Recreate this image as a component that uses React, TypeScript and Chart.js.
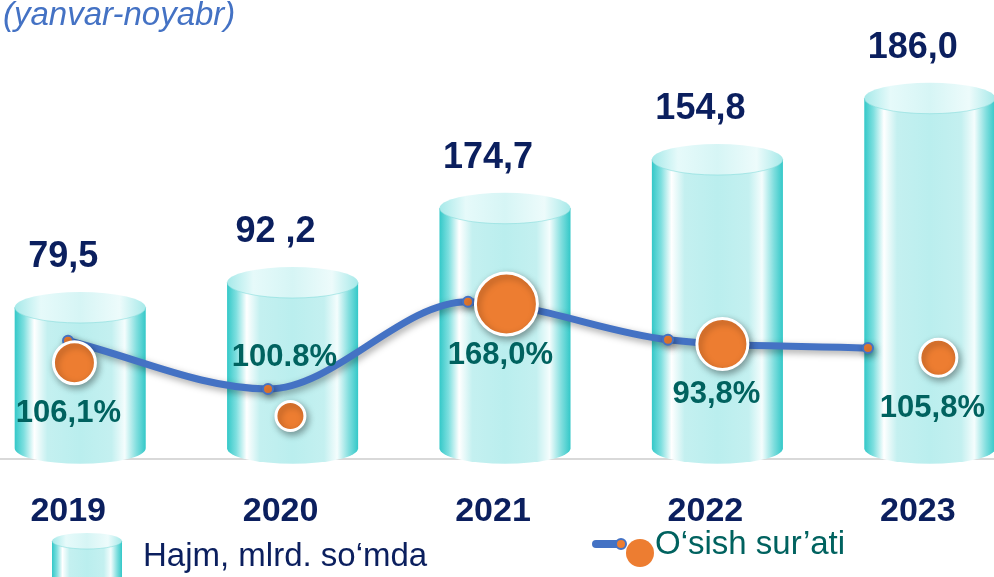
import React, { useEffect, useRef } from 'react';
import { Chart, registerables } from 'chart.js';

Chart.register(...registerables);

// ---------- data ----------
const years = ['2019', '2020', '2021', '2022', '2023'];
const volumeLabels = ['79,5', '92 ,2', '174,7', '154,8', '186,0'];
// cylinder heights as drawn in the picture (mlrd. so'm)
const volumeDrawn = [79.5, 92.2, 130, 154.8, 186.0];
const rateLabels = ['106,1%', '100.8%', '168,0%', '93,8%', '105,8%'];
// level of the growth line and of the bubbles on the hidden rate axis
const lineLevel = [25.8, 15.3, 34.3, 26.0, 24.2];
const bubbleLevel = [21.0, 9.4, 33.8, 25.1, 22.1];
const bubbleSize = [21, 14.5, 31, 25.5, 18.5];
const rateLabelSide = ['below', 'above', 'below', 'below', 'below'];
const titleText = '(yanvar-noyabr)';
const legendVolume = 'Hajm, mlrd. so‘mda';
const legendRate = 'O‘sish sur’ati';

const FONT = "'Liberation Sans', Arial, Helvetica, sans-serif";
const NAVY = '#0B1F5E';
const TEAL_TEXT = '#00625F';
const BLUE = '#4472C4';
const ORANGE = '#ED7D31';
const CANVAS_W = 1062;
const CANVAS_H = 577;
const SHIFT = 26; // canvas sits 26px left of the page edge
const RY = 15.5;

function bodyGradient(ctx: CanvasRenderingContext2D, l: number, r: number) {
  const g = ctx.createLinearGradient(l, 0, r, 0);
  g.addColorStop(0, '#33C8C8');
  g.addColorStop(0.07, '#7EDFDF');
  g.addColorStop(0.15, '#FFFFFF');
  g.addColorStop(0.25, '#C4F0F0');
  g.addColorStop(0.5, '#BAEEEE');
  g.addColorStop(0.74, '#C4F0F0');
  g.addColorStop(0.84, '#F4FDFD');
  g.addColorStop(0.93, '#80DEDE');
  g.addColorStop(1, '#33C8C8');
  return g;
}

function capGradient(ctx: CanvasRenderingContext2D, l: number, r: number) {
  const g = ctx.createLinearGradient(l, 0, r, 0);
  g.addColorStop(0, '#A6E9E9');
  g.addColorStop(0.2, '#E6FAFA');
  g.addColorStop(0.5, '#D6F5F5');
  g.addColorStop(0.8, '#EDFBFB');
  g.addColorStop(1, '#A6E9E9');
  return g;
}

function drawCylinder(ctx: CanvasRenderingContext2D, l: number, r: number, top: number, base: number, ry: number) {
  const cx = (l + r) / 2;
  const rx = (r - l) / 2;
  const capY = top + ry;
  ctx.save();
  ctx.fillStyle = bodyGradient(ctx, l, r);
  ctx.beginPath();
  ctx.moveTo(l, capY);
  ctx.lineTo(l, base);
  ctx.ellipse(cx, base, rx, ry, 0, Math.PI, 0, true);
  ctx.lineTo(r, capY);
  ctx.closePath();
  ctx.fill();
  ctx.fillStyle = capGradient(ctx, l, r);
  ctx.beginPath();
  ctx.ellipse(cx, capY, rx, ry, 0, 0, Math.PI * 2);
  ctx.fill();
  ctx.strokeStyle = 'rgba(120,215,215,0.5)';
  ctx.lineWidth = 1;
  ctx.beginPath();
  ctx.ellipse(cx, capY, rx, ry, 0, 0, Math.PI);
  ctx.stroke();
  ctx.restore();
}

const cylinderPlugin = {
  id: 'cylinders',
  beforeDatasetsDraw(chart: any) {
    const ctx = chart.ctx as CanvasRenderingContext2D;
    const meta = chart.getDatasetMeta(0);
    meta.data.forEach((bar: any) => {
      const { x, y, base, width } = bar.getProps(['x', 'y', 'base', 'width'], true);
      drawCylinder(ctx, x - width / 2, x + width / 2, y, base, RY);
    });
  },
  beforeDatasetDraw(chart: any, args: any) {
    if (args.index === 1 || args.index === 2) {
      const ctx = chart.ctx;
      ctx.save();
      ctx.shadowColor = 'rgba(0,0,0,0.35)';
      ctx.shadowBlur = 7;
      ctx.shadowOffsetX = 2;
      ctx.shadowOffsetY = 3;
    }
  },
  afterDatasetDraw(chart: any, args: any) {
    if (args.index === 1 || args.index === 2) chart.ctx.restore();
  },
  afterDraw(chart: any) {
    const ctx = chart.ctx as CanvasRenderingContext2D;
    ctx.save();
    // volume labels
    ctx.textAlign = 'center';
    ctx.textBaseline = 'middle';
    ctx.fillStyle = NAVY;
    ctx.font = `bold 36px ${FONT}`;
    chart.getDatasetMeta(0).data.forEach((bar: any, i: number) => {
      const { x, y } = bar.getProps(['x', 'y'], true);
      ctx.fillText(volumeLabels[i], x - 17, y - 35);
    });
    // rate labels
    ctx.fillStyle = TEAL_TEXT;
    ctx.font = `bold 31px ${FONT}`;
    chart.getDatasetMeta(2).data.forEach((pt: any, i: number) => {
      const { x, y } = pt.getProps(['x', 'y'], true);
      const ly = rateLabelSide[i] === 'above' ? y - 59 : y + 51;
      ctx.fillText(rateLabels[i], x - 6, ly);
    });
    // title
    ctx.textAlign = 'left';
    ctx.textBaseline = 'alphabetic';
    ctx.fillStyle = BLUE;
    ctx.font = `italic 33px ${FONT}`;
    ctx.fillText(titleText, 3 + SHIFT, 25);
    // legend: volume
    drawCylinder(ctx, 52 + SHIFT, 122 + SHIFT, 533, 600, 8);
    ctx.fillStyle = NAVY;
    ctx.font = `33px ${FONT}`;
    ctx.textBaseline = 'middle';
    ctx.fillText(legendVolume, 143 + SHIFT, 557);
    // legend: rate
    ctx.strokeStyle = BLUE;
    ctx.lineWidth = 8;
    ctx.lineCap = 'round';
    ctx.beginPath();
    ctx.moveTo(596 + SHIFT, 544);
    ctx.lineTo(622 + SHIFT, 544);
    ctx.stroke();
    ctx.fillStyle = ORANGE;
    ctx.strokeStyle = BLUE;
    ctx.lineWidth = 2;
    ctx.beginPath();
    ctx.arc(621 + SHIFT, 544, 5, 0, Math.PI * 2);
    ctx.fill();
    ctx.stroke();
    ctx.beginPath();
    ctx.arc(640 + SHIFT, 553, 14, 0, Math.PI * 2);
    ctx.fill();
    ctx.fillStyle = TEAL_TEXT;
    ctx.font = `33px ${FONT}`;
    ctx.fillText(legendRate, 655 + SHIFT, 545);
    ctx.restore();
  },
};

export default function App() {
  const ref = useRef<HTMLCanvasElement | null>(null);
  useEffect(() => {
    if (!ref.current) return;
    Chart.defaults.font.family = FONT;
    const chart = new Chart(ref.current, {
      type: 'bar',
      data: {
        labels: years,
        datasets: [
          {
            type: 'bar',
            label: legendVolume,
            data: volumeDrawn,
            xAxisID: 'x',
            yAxisID: 'y',
            backgroundColor: 'rgba(0,0,0,0)',
            borderWidth: 0,
            grouped: false,
            barPercentage: 0.617,
            categoryPercentage: 1,
            order: 3,
          } as any,
          {
            type: 'line',
            label: legendRate,
            data: lineLevel.map((v, i) => ({ x: i, y: v })),
            xAxisID: 'xl',
            yAxisID: 'y2',
            borderColor: BLUE,
            borderWidth: 7,
            cubicInterpolationMode: 'monotone',
            pointRadius: 5,
            pointBackgroundColor: ORANGE,
            pointBorderColor: BLUE,
            pointBorderWidth: 2,
            fill: false,
            order: 2,
          } as any,
          {
            type: 'bubble',
            label: legendRate,
            data: bubbleLevel.map((v, i) => ({ x: i, y: v, r: bubbleSize[i] })),
            xAxisID: 'xb',
            yAxisID: 'y2',
            backgroundColor: ORANGE,
            borderColor: '#FFFFFF',
            borderWidth: 3,
            order: 1,
          } as any,
        ],
      },
      options: {
        responsive: true,
        maintainAspectRatio: false,
        animation: false,
        devicePixelRatio: 1,
        events: [],
        layout: { autoPadding: false, padding: { top: 0, bottom: 13, left: 0, right: 0 } },
        plugins: { legend: { display: false }, tooltip: { enabled: false } },
        scales: {
          x: {
            type: 'category',
            position: 'bottom',
            grid: { display: false, drawTicks: false },
            border: { display: true, color: '#D9D9D9', width: 2 },
            ticks: {
              color: NAVY,
              font: { size: 34, weight: 'bold', family: FONT },
              padding: 32,
              labelOffset: -12,
            },
          },
          xl: { type: 'linear', axis: 'x', display: false, offset: false, grid: { offset: false }, min: -0.47, max: 4.84 },
          xb: { type: 'linear', axis: 'x', display: false, offset: false, grid: { offset: false }, min: -0.465, max: 4.452 },
          y: { display: false, min: -5.6, max: 228.1 },
          y2: { display: false, min: 0, max: 100 },
        } as any,
      },
      plugins: [cylinderPlugin],
    });
    return () => chart.destroy();
  }, []);
  return (
    <div style={{ position: 'fixed', left: 0, top: 0, width: 994, height: 577, overflow: 'hidden', background: '#fff' }}>
      <div style={{ position: 'absolute', left: -SHIFT, top: 0, width: CANVAS_W, height: CANVAS_H }}>
        <canvas ref={ref} />
      </div>
    </div>
  );
}
